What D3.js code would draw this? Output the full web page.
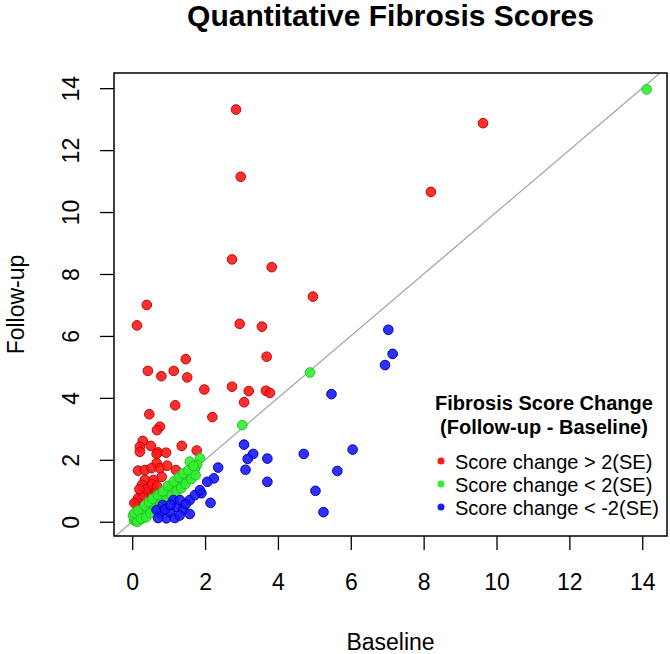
<!DOCTYPE html>
<meta charset="utf-8">
<html>
<head>
<script src="https://cdn.jsdelivr.net/npm/d3@7"></script>
<style>
body { margin:0; background:white; }
text { font-family:'Liberation Sans', Arial, sans-serif; fill:black; }
.title { font-size:30px; font-weight:bold; }
.axis text { font-size:23px; }
.axis path { display:none; }
.axis line { stroke:black; stroke-width:1.3; }
.lab { font-size:23px; }
.leg-title { font-size:20px; font-weight:bold; }
.leg-item { font-size:20px; }
</style>
</head>
<body>
<script>

// baseline / follow-up pairs
var redPts = [
  [2.85,13.31],[2.98,11.14],[9.63,12.87],[8.20,10.65],[2.74,8.47],[3.83,8.22],
  [4.96,7.27],[0.40,7.00],[0.13,6.34],[2.95,6.39],[3.56,6.30],[3.69,5.33],
  [1.47,5.25],[0.43,4.87],[0.80,4.70],[1.14,4.87],[1.51,4.66],[1.98,4.27],
  [2.74,4.36],[3.20,4.22],[3.67,4.23],[3.78,4.16],[3.07,3.86],[1.18,3.76],
  [0.47,3.47],[2.20,3.38],[0.76,3.07],[0.68,2.96],[0.29,2.61],[0.21,2.42],
  [0.21,2.26],[0.51,2.45],[0.71,2.24],[0.67,2.19],[0.93,2.23],[1.36,2.45],
  [1.77,2.30],[0.67,1.89],[0.16,1.65],[0.35,1.67],[0.53,1.73],[0.76,1.73],
  [0.96,1.81],[1.20,1.67],[0.35,1.35],[0.58,1.35],[0.81,1.45],[0.12,0.65],
  [0.26,0.92],[0.44,0.97],[0.62,1.02],[0.16,0.76],[0.30,0.86],[0.49,1.15],
  [0.27,1.19],[0.06,0.60],[0.38,1.05],[0.55,1.22],[0.20,1.05],[0.68,1.15]
];

var greenPts = [
  [14.12,13.96],[4.88,4.82],[3.02,3.12],[1.86,2.05],[1.78,1.83],[1.58,1.94],
  [0.05,0.05],[0.08,0.15],[0.10,0.02],[0.12,0.22],[0.15,0.10],[0.18,0.30],
  [0.20,0.05],[0.22,0.18],[0.25,0.35],[0.28,0.12],[0.30,0.25],[0.33,0.40],
  [0.36,0.20],[0.40,0.45],[0.42,0.30],[0.45,0.55],[0.48,0.38],[0.52,0.50],
  [0.55,0.62],[0.58,0.42],[0.62,0.58],[0.66,0.70],[0.70,0.55],[0.74,0.78],
  [0.78,0.65],[0.82,0.85],[0.86,0.72],[0.90,0.95],[0.95,0.82],[1.00,1.05],
  [1.05,0.90],[1.10,1.15],[1.15,1.00],[1.20,1.22],[1.25,1.08],[1.30,1.30],
  [1.36,1.18],[1.42,1.40],[1.50,1.35],[1.58,1.55],[1.65,1.50],[1.72,1.70],
  [0.02,0.20],[0.14,0.00],[0.60,0.75],[1.00,0.88],
  [0.06,0.28],[0.16,0.36],[0.24,0.10],[0.34,0.52],[0.38,0.14],[0.46,0.64],
  [0.50,0.28],[0.56,0.74],[0.64,0.44],[0.70,0.86],[0.76,0.52],[0.84,0.98],
  [0.92,0.68],[0.98,1.16],[1.08,0.84],[1.14,1.30],[1.22,0.98],[1.28,1.44],
  [1.34,1.08],[1.40,1.56],[1.46,1.22],[1.54,1.66],[1.62,1.38],[1.68,1.80],
  [1.74,1.50]
];

var bluePts = [
  [7.03,6.20],[7.15,5.42],[6.94,5.06],[5.47,4.12],[3.07,2.49],[3.32,2.19],
  [3.17,2.03],[3.71,2.04],[3.11,1.68],[4.71,2.19],[6.05,2.33],[5.63,1.64],
  [3.71,1.29],[2.36,1.75],[2.24,1.40],[2.06,1.29],[1.90,0.92],[2.15,0.61],
  [5.03,1.00],[5.25,0.31],[0.76,0.27],[0.94,0.11],[1.22,0.48],[1.40,0.38],
  [1.58,0.70],[1.13,0.70],[0.67,0.38],[0.84,0.54],[1.03,0.31],[1.31,0.70],
  [1.47,0.57],[1.72,0.86],[1.86,1.02],[0.71,0.12],[1.17,0.12],[1.58,0.25],
  [0.90,0.40],[1.30,0.20],[1.05,0.55]
];

var ticks = [0, 2, 4, 6, 8, 10, 12, 14];
var legendTitle = ["Fibrosis Score Change", "(Follow-up - Baseline)"];
var legendLabels = ["Score change > 2(SE)", "Score change < 2(SE)", "Score change < -2(SE)"];

var groups = [
  {pts:redPts,   fill:"#ff1a1a", stroke:"#c80000"},
  {pts:greenPts, fill:"#33ee33", stroke:"#22c422"},
  {pts:bluePts,  fill:"#1a1aff", stroke:"#0000b4"}
];

var W = 670, H = 654;
var box = {left:114, right:667, top:73, bottom:536};

var svg = d3.select("body").append("svg")
    .attr("width", W)
    .attr("height", H);

var x = d3.scaleLinear().domain([-0.5, 14.68]).range([box.left, box.right]);
var y = d3.scaleLinear().domain([-0.46, 14.49]).range([box.bottom, box.top]);

svg.append("clipPath").attr("id", "clip")
  .append("rect")
    .attr("x", box.left).attr("y", box.top)
    .attr("width", box.right - box.left).attr("height", box.bottom - box.top);

// identity line
svg.append("line")
    .attr("clip-path", "url(#clip)")
    .attr("x1", x(-1)).attr("y1", y(-1))
    .attr("x2", x(16)).attr("y2", y(16))
    .attr("stroke", "#a0a0a0")
    .attr("stroke-width", 1.2);

// points
groups.forEach(function(g) {
  svg.append("g").selectAll("circle")
    .data(g.pts)
    .enter()
    .append("circle")
      .attr("cx", d => x(d[0]))
      .attr("cy", d => y(d[1]))
      .attr("r", 4.8)
      .attr("fill", g.fill)
      .attr("fill-opacity", 0.9)
      .attr("stroke", g.stroke)
      .attr("stroke-width", 1);
});

// frame
svg.append("rect")
    .attr("x", box.left).attr("y", box.top)
    .attr("width", box.right - box.left).attr("height", box.bottom - box.top)
    .attr("fill", "none")
    .attr("stroke", "black")
    .attr("stroke-width", 1.5);

// x axis
var xg = svg.append("g")
    .attr("class", "axis")
    .attr("transform", `translate(0, ${box.bottom})`)
    .call(d3.axisBottom(x).tickValues(ticks).tickSize(14).tickPadding(24));
xg.selectAll("text").attr("dy", "0.71em");

// y axis, labels turned like R's las=0
var yg = svg.append("g")
    .attr("class", "axis")
    .attr("transform", `translate(${box.left}, 0)`)
    .call(d3.axisLeft(y).tickValues(ticks).tickSize(14).tickPadding(0));
yg.selectAll(".tick text")
    .attr("x", null).attr("dy", null)
    .attr("text-anchor", "middle")
    .attr("transform", "translate(-35, 0) rotate(-90)");

// titles
svg.append("text")
    .attr("class", "title")
    .attr("x", (box.left + box.right) / 2)
    .attr("y", 26)
    .attr("text-anchor", "middle")
    .text("Quantitative Fibrosis Scores");

svg.append("text")
    .attr("class", "lab")
    .attr("x", (box.left + box.right) / 2)
    .attr("y", 650)
    .attr("text-anchor", "middle")
    .text("Baseline");

svg.append("text")
    .attr("class", "lab")
    .attr("text-anchor", "middle")
    .attr("transform", `translate(24, ${(box.top + box.bottom) / 2}) rotate(-90)`)
    .text("Follow-up");

// legend
var leg = svg.append("g");
leg.selectAll(".leg-title")
  .data(legendTitle)
  .enter()
  .append("text")
    .attr("class", "leg-title")
    .attr("x", 544)
    .attr("y", (d, i) => 410 + i * 24)
    .attr("text-anchor", "middle")
    .text(d => d);

var rows = leg.selectAll(".row")
  .data(legendLabels)
  .enter()
  .append("g")
    .attr("transform", (d, i) => `translate(441, ${461 + i * 23})`);
rows.append("circle")
    .attr("r", 3.5)
    .attr("fill", (d, i) => groups[i].fill);
rows.append("text")
    .attr("class", "leg-item")
    .attr("x", 14)
    .attr("y", 8)
    .text(d => d);

</script>
</body>
</html>
